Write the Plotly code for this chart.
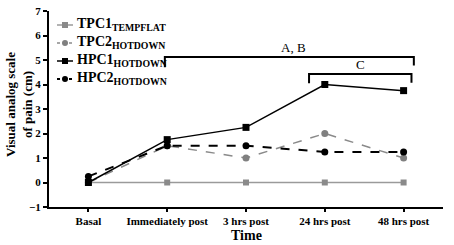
import plotly.graph_objects as go

categories = ["Basal", "Immediately post", "3 hrs post", "24 hrs post", "48 hrs post"]
tpc1 = [0, 0, 0, 0, 0]
tpc2 = [0, 1.5, 1.0, 2.0, 1.0]
hpc1 = [0, 1.75, 2.25, 4.0, 3.75]
hpc2 = [0.25, 1.5, 1.5, 1.25, 1.25]
y_ticks = [-1, 0, 1, 2, 3, 4, 5, 6, 7]
series_names = ["TPC1", "TPC2", "HPC1", "HPC2"]
series_subs = ["TEMPFLAT", "HOTDOWN", "HOTDOWN", "HOTDOWN"]

xi = list(range(len(categories)))
FONT = "Liberation Serif"

styles = [
    dict(line=dict(color="#9a9a9a", width=1.5), marker=dict(symbol="square", size=6, color="#8a8a8a")),
    dict(line=dict(color="#8a8a8a", width=1.5, dash="dash"), marker=dict(symbol="circle", size=7, color="#808080")),
    dict(line=dict(color="black", width=1.5), marker=dict(symbol="square", size=7, color="black")),
    dict(line=dict(color="black", width=2, dash="dash"), marker=dict(symbol="circle", size=7, color="black")),
]

fig = go.Figure()
for name, sub, ys, st in zip(series_names, series_subs, [tpc1, tpc2, hpc1, hpc2], styles):
    fig.add_trace(go.Scatter(x=xi, y=ys, mode="lines+markers", name=f"{name}<sub>{sub}</sub>",
                             showlegend=False, **st))

# manual compact legend (pixel positions converted to paper coords)
L, R, T, B = 49, 11, 11, 38
W, H = 454, 245
pw, ph = W - L - R, H - T - B
def px(x):
    return (x - L) / pw
def py(y):
    return (H - B - y) / ph

rows = [25, 43, 61, 79]
for i, (name, sub, st) in enumerate(zip(series_names, series_subs, styles)):
    yy = rows[i]
    dash = st["line"].get("dash", "solid")
    fig.add_shape(type="line", xref="paper", yref="paper", x0=px(57), x1=px(73), y0=py(yy), y1=py(yy),
                  line=dict(color=st["line"]["color"], width=st["line"]["width"],
                            dash="dot" if dash == "dash" else "solid"))
    sz = 3
    kind = "rect" if st["marker"]["symbol"] == "square" else "circle"
    fig.add_shape(type=kind, xref="paper", yref="paper", x0=px(65 - sz), x1=px(65 + sz),
                  y0=py(yy - sz), y1=py(yy + sz), fillcolor=st["marker"]["color"],
                  line=dict(width=0))
    fig.add_annotation(xref="paper", yref="paper", x=px(75), y=py(yy - 1), xanchor="left", yanchor="middle",
                       showarrow=False,
                       text=f"<b>{name}<sub>{sub}</sub></b>",
                       font=dict(family=FONT, size=14, color="black"))

# significance brackets
fig.add_shape(type="path", path="M 0.97,4.7 L 0.97,5.12 L 4.13,5.12 L 4.13,4.78",
              xref="x", yref="y", line=dict(color="black", width=2))
fig.add_shape(type="path", path="M 2.8,4.05 L 2.8,4.43 L 4.1,4.43 L 4.1,4.07",
              xref="x", yref="y", line=dict(color="black", width=2))
fig.add_annotation(x=2.6, y=5.5, text="A, B", showarrow=False, xref="x", yref="y",
                   font=dict(family=FONT, size=13, color="black"))
fig.add_annotation(x=3.45, y=4.8, text="C", showarrow=False, xref="x", yref="y",
                   font=dict(family=FONT, size=13, color="black"))

# axis titles
fig.add_annotation(xref="paper", yref="paper", x=px(246), y=py(235), xanchor="center", yanchor="middle",
                   showarrow=False, text="<b>Time</b>", font=dict(family=FONT, size=14, color="black"))
fig.add_annotation(xref="paper", yref="paper", x=px(19), y=py(105), xanchor="center", yanchor="middle",
                   showarrow=False, textangle=-90, text="<b>Visual analog scale<br>of pain (cm)</b>",
                   font=dict(family=FONT, size=13, color="black"))

fig.update_layout(
    width=W, height=H,
    margin=dict(l=L, r=R, t=T, b=B),
    paper_bgcolor="white", plot_bgcolor="white",
    font=dict(family=FONT, color="black"),
    showlegend=False,
)
fig.update_xaxes(range=[-0.5, 4.5], tickmode="array", tickvals=xi, ticktext=categories,
                 automargin=False,
                 showgrid=False, zeroline=False, showline=True, linecolor="black", linewidth=2,
                 ticks="outside", ticklen=3, tickwidth=2, tickcolor="black",
                 tickfont=dict(family=FONT, size=11, color="black", weight="bold"))
fig.update_yaxes(range=[-1, 7], tickmode="array", tickvals=y_ticks,
                 automargin=False,
                 showgrid=False, zeroline=False, showline=True, linecolor="black", linewidth=2,
                 ticks="outside", ticklen=4, tickwidth=2, tickcolor="black",
                 tickfont=dict(family=FONT, size=11, color="black", weight="bold"))

fig.write_html("out.html", config={"displayModeBar": False},
               post_script="document.body.style.margin='0';document.body.style.overflow='hidden';")
